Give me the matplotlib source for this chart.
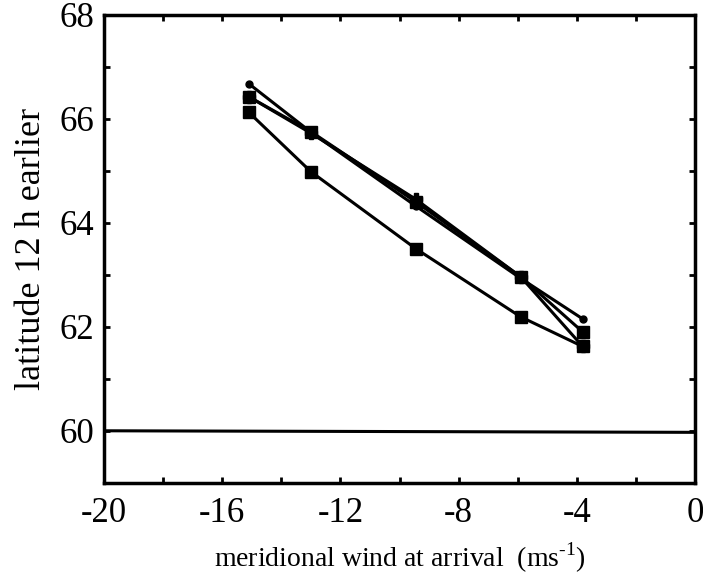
import matplotlib
matplotlib.use("Agg")
import matplotlib.pyplot as plt
from matplotlib.ticker import MultipleLocator

plt.rcParams['font.family'] = ['Liberation Serif', 'DejaVu Serif']
plt.rcParams['axes.unicode_minus'] = False
plt.rcParams['mathtext.fontset'] = 'custom'
plt.rcParams['mathtext.rm'] = 'Liberation Serif'

# data
wind = [-15.1, -13.0, -9.45, -5.9, -3.8]
lat_a = [66.67, 65.74, 64.32, 62.93, 62.15]   # small dot marker
lat_b = [66.42, 65.75, 64.40, 62.96, 61.90]   # square marker
lat_c = [66.42, 65.72, 64.45, 62.96, 61.62]   # plus marker
lat_d = [66.12, 64.98, 63.50, 62.19, 61.62]   # square marker
ref_x = [-20, 0]
ref_y = [60.0, 59.97]

fig = plt.figure(figsize=(7.03, 5.81), dpi=100)
ax = fig.add_axes([0.148, 0.169, 0.8406, 0.806])

lw = 2.2
ax.plot(ref_x, ref_y, color='black', lw=lw)
ax.plot(wind, lat_c, color='black', lw=lw, marker='P', ms=9)
ax.plot(wind, lat_a, color='black', lw=lw, marker='o', ms=5)
ax.plot(wind, lat_b, color='black', lw=lw, marker='s', ms=9)
ax.plot(wind, lat_d, color='black', lw=lw, marker='s', ms=9)

ax.set_xlim(-20, 0)
ax.set_ylim(59, 68)
ax.xaxis.set_major_locator(MultipleLocator(4))
ax.xaxis.set_minor_locator(MultipleLocator(2))
ax.yaxis.set_major_locator(MultipleLocator(2))
ax.yaxis.set_minor_locator(MultipleLocator(1))
ax.tick_params(which='both', direction='in', top=True, right=True,
               length=4, width=2, labelsize=25)
ax.tick_params(axis='y', pad=7)
ax.tick_params(axis='x', pad=10)
for s in ax.spines.values():
    s.set_linewidth(2.5)

ax.set_xlabel('meridional wind at arrival  (ms$^{\\mathregular{\u20101}}$)', fontsize=20, labelpad=8)
ax.set_ylabel('latitude 12 h earlier', fontsize=26, labelpad=8)

fig.savefig('out.png', dpi=100)
